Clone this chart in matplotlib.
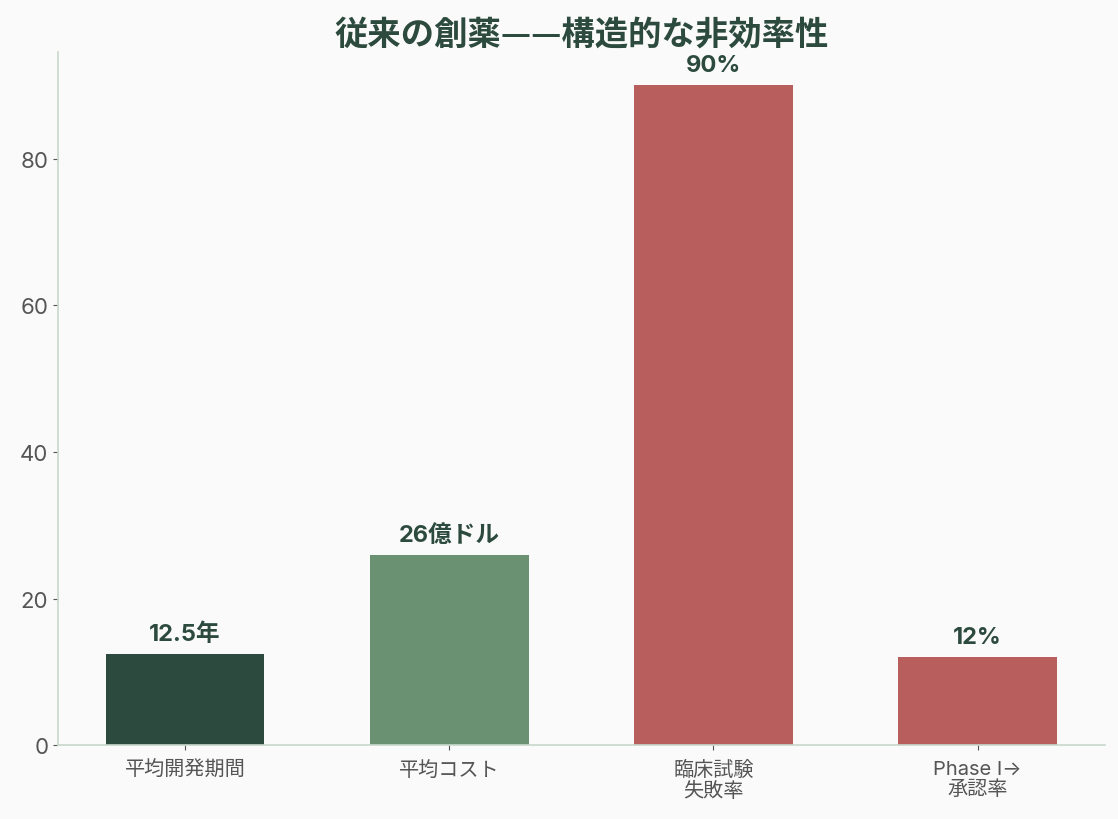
import matplotlib
matplotlib.use('Agg')
import matplotlib.pyplot as plt

plt.rcParams['font.family'] = ['Inter', 'Noto Sans CJK JP', 'DejaVu Sans']

## データ
categories = ['平均開発期間', '平均コスト', '臨床試験\n失敗率', 'Phase I→\n承認率']
values = [12.5, 26, 90, 12]
value_labels = ['12.5年', '26億ドル', '90%', '12%']
colors = ['#2d4a3e', '#6b9173', '#b85f5e', '#b85f5e']

bg = '#fafafa'
dark = '#2d4a3e'

fig = plt.figure(figsize=(11.18, 8.2), dpi=100, facecolor=bg)
ax = fig.add_axes([0.052, 0.090, 0.936, 0.845], facecolor=bg)

x = range(len(categories))
bars = ax.bar(x, values, width=0.6, color=colors)

# 値ラベル
for b, lab in zip(bars, value_labels):
    ax.text(b.get_x() + b.get_width() / 2, b.get_height() + 1.2, lab,
            ha='center', va='bottom', fontsize=17, fontweight='bold', color=dark)

ax.set_xticks(list(x))
ax.set_xticklabels(categories, fontsize=14.5, color='#555555', linespacing=1.12)
ax.tick_params(axis='y', labelsize=16, labelcolor='#555555', color='#555555')
ax.tick_params(axis='x', color='#555555', pad=7)
ax.set_ylim(0, 94.5)

for s in ['top', 'right']:
    ax.spines[s].set_visible(False)
for s in ['left', 'bottom']:
    ax.spines[s].set_color('#c8d8cc')
    ax.spines[s].set_linewidth(1.2)

ax.set_title('従来の創薬——構造的な非効率性', fontsize=24, fontweight='bold',
             color=dark, pad=6, family=['Noto Sans CJK JP', 'DejaVu Sans'])

fig.savefig('out.png', dpi=100, facecolor=bg)
